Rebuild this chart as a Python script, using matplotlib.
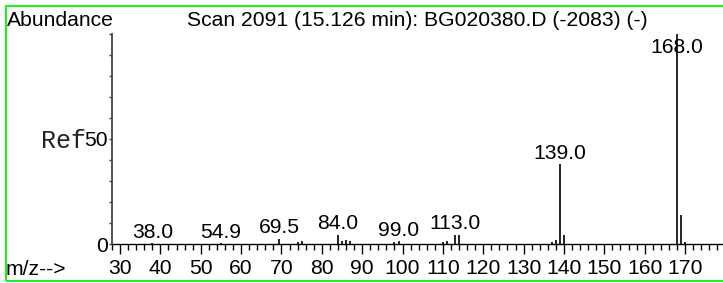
import matplotlib
matplotlib.use("Agg")
import matplotlib.pyplot as plt
from matplotlib.patches import Rectangle
from matplotlib.ticker import MultipleLocator, FixedLocator

# ---- data ----
mz = [38.0, 54.9, 69.5, 74, 75, 84, 85, 86, 87, 98, 99, 110, 111, 113, 114,
      137, 138, 139, 140, 168, 169, 170]
abundance = [0.3, 0.3, 2.5, 1.0, 1.5, 4.5, 1.2, 2.0, 1.5, 0.8, 1.2, 0.8, 1.2,
             4.5, 4.5, 0.8, 1.8, 38, 4.5, 100, 14, 1.0]
labeled_mz = [38.0, 54.9, 69.5, 84.0, 99.0, 113.0, 139.0, 168.0]
title = "Scan 2091 (15.126 min): BG020380.D (-2083) (-)"
x_major = [30, 40, 50, 60, 70, 80, 90, 100, 110, 120, 130, 140, 150, 160, 170]

W, H = 723, 283
fig = plt.figure(figsize=(W / 100, H / 100), dpi=100)
fig.patch.set_facecolor("white")

def fx(px):
    return px / W

def fy(py):
    return 1 - py / H

left_px, right_px, top_px, base_px = 112, 723, 34, 244
ax = fig.add_axes([fx(left_px), fy(base_px), fx(right_px - left_px), (base_px - top_px) / H])
ax.set_xlim(28.0, 179.4)
ax.set_ylim(0, 100)
ax.patch.set_alpha(0)

ax.vlines(mz, 0, abundance, color="black", lw=1.2, clip_on=False)

font = "Liberation Sans"
fs = 15.2
lookup = dict(zip(mz, abundance))
for m in labeled_mz:
    h = lookup.get(m, 0)
    lab = f"{m:.1f}"
    if h >= 90:
        ax.annotate(lab, (m, 100), xytext=(0, -3), textcoords="offset points",
                    ha="center", va="top", fontsize=fs, family=font)
    else:
        ax.annotate(lab, (m, h), xytext=(0, 4), textcoords="offset points",
                    ha="center", va="baseline", fontsize=fs, family=font)

for s in ["top", "right"]:
    ax.spines[s].set_visible(False)
ax.spines["left"].set_color("#444444")
ax.spines["left"].set_linewidth(1.3)
ax.spines["bottom"].set_color("black")
ax.spines["bottom"].set_linewidth(1.0)

ax.xaxis.set_major_locator(FixedLocator(x_major))
ax.xaxis.set_minor_locator(MultipleLocator(2))
ax.tick_params(axis="x", which="major", direction="out", length=7, width=1.0,
               pad=3.5, labelsize=fs, color="black")
ax.tick_params(axis="x", which="minor", direction="out", length=4, width=1.0, color="black")
for t in ax.get_xticklabels():
    t.set_family(font)

ax.yaxis.set_major_locator(FixedLocator([0, 50]))
ax.yaxis.set_minor_locator(MultipleLocator(10))
ax.set_yticklabels(["0", "50"])
ax.tick_params(axis="y", which="both", direction="out", length=2, width=1.0,
               pad=1, labelsize=fs, color="#444444")
for t in ax.get_yticklabels():
    t.set_family(font)

# "Ref" prefix before 50
fig.text(fx(86), fy(141), "Ref", ha="right", va="center", fontsize=18,
         family="Liberation Mono", color="#222222")

fig.text(fx(7), fy(26), "Abundance", ha="left", va="baseline", fontsize=fs, family=font)
fig.text(fx(417), fy(26), title, ha="center", va="baseline", fontsize=fs, family=font)
fig.text(fx(6), fy(275), "m/z-->", ha="left", va="baseline", fontsize=fs, family=font)

fig.patches.append(Rectangle((fx(6), fy(281)), 1.2, (281 - 6) / H,
                             transform=fig.transFigure, fill=False,
                             edgecolor="#22ee22", lw=1.5))

fig.savefig("out.png", dpi=100)
